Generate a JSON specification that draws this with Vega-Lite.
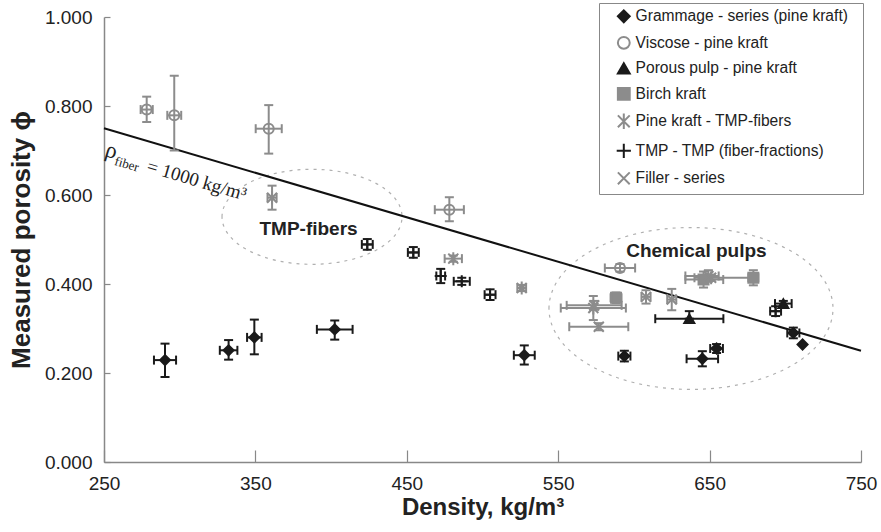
{
  "$schema": "https://vega.github.io/schema/vega-lite/v6.json",
  "width": 757,
  "height": 445,
  "autosize": "none",
  "padding": {"left": 104, "top": 17, "right": 20, "bottom": 70},
  "background": "white",
  "config": {"view": {"stroke": null}, "font": "Liberation Sans"},
  "datasets": {
    "pts": [
      {"series": "Grammage - series (pine kraft)", "x": 290.3, "y": 0.229, "xlo": 283.0, "xhi": 297.6, "ylo": 0.191, "yhi": 0.266},
      {"series": "Grammage - series (pine kraft)", "x": 332.3, "y": 0.251, "xlo": 326.5, "xhi": 338.1, "ylo": 0.230, "yhi": 0.274},
      {"series": "Grammage - series (pine kraft)", "x": 349.3, "y": 0.280, "xlo": 344.5, "xhi": 354.1, "ylo": 0.242, "yhi": 0.320},
      {"series": "Grammage - series (pine kraft)", "x": 402.4, "y": 0.298, "xlo": 390.6, "xhi": 414.2, "ylo": 0.275, "yhi": 0.318},
      {"series": "Grammage - series (pine kraft)", "x": 527.6, "y": 0.240, "xlo": 520.7, "xhi": 534.5, "ylo": 0.219, "yhi": 0.262},
      {"series": "Grammage - series (pine kraft)", "x": 593.7, "y": 0.238, "xlo": 589.7, "xhi": 597.7, "ylo": 0.226, "yhi": 0.250},
      {"series": "Grammage - series (pine kraft)", "x": 645.2, "y": 0.232, "xlo": 634.8, "xhi": 655.6, "ylo": 0.215, "yhi": 0.249},
      {"series": "Grammage - series (pine kraft)", "x": 654.6, "y": 0.255, "xlo": 650.4, "xhi": 658.8, "ylo": 0.245, "yhi": 0.265},
      {"series": "Grammage - series (pine kraft)", "x": 705.3, "y": 0.290, "xlo": 701.3, "xhi": 709.3, "ylo": 0.278, "yhi": 0.302},
      {"series": "Grammage - series (pine kraft)", "x": 711.4, "y": 0.264, "xlo": 711.4, "xhi": 711.4, "ylo": 0.264, "yhi": 0.264},
      {"series": "Viscose - pine kraft", "x": 278.2, "y": 0.792, "xlo": 274.2, "xhi": 282.2, "ylo": 0.764, "yhi": 0.821},
      {"series": "Viscose - pine kraft", "x": 296.4, "y": 0.779, "xlo": 291.8, "xhi": 301.0, "ylo": 0.700, "yhi": 0.868},
      {"series": "Viscose - pine kraft", "x": 358.8, "y": 0.749, "xlo": 350.2, "xhi": 367.4, "ylo": 0.693, "yhi": 0.802},
      {"series": "Viscose - pine kraft", "x": 478.1, "y": 0.567, "xlo": 468.5, "xhi": 487.7, "ylo": 0.541, "yhi": 0.595},
      {"series": "Viscose - pine kraft", "x": 590.8, "y": 0.436, "xlo": 580.8, "xhi": 600.8, "ylo": 0.428, "yhi": 0.445},
      {"series": "Porous pulp - pine kraft", "x": 636.6, "y": 0.322, "xlo": 614.1, "xhi": 659.1, "ylo": 0.322, "yhi": 0.339},
      {"series": "Porous pulp - pine kraft", "x": 698.7, "y": 0.356, "xlo": 693.2, "xhi": 704.2, "ylo": 0.350, "yhi": 0.362},
      {"series": "Birch kraft", "x": 588.2, "y": 0.369, "xlo": 584.6, "xhi": 591.8, "ylo": 0.357, "yhi": 0.381},
      {"series": "Birch kraft", "x": 678.9, "y": 0.414, "xlo": 675.6, "xhi": 682.2, "ylo": 0.397, "yhi": 0.431},
      {"series": "Birch kraft", "x": 646.0, "y": 0.410, "xlo": 634.0, "xhi": 659.0, "ylo": 0.392, "yhi": 0.428},
      {"series": "Pine kraft - TMP-fibers", "x": 361.0, "y": 0.594, "xlo": 358.0, "xhi": 364.0, "ylo": 0.567, "yhi": 0.621},
      {"series": "Pine kraft - TMP-fibers", "x": 480.7, "y": 0.457, "xlo": 475.0, "xhi": 486.4, "ylo": 0.450, "yhi": 0.464},
      {"series": "Pine kraft - TMP-fibers", "x": 525.9, "y": 0.391, "xlo": 523.0, "xhi": 528.8, "ylo": 0.384, "yhi": 0.398},
      {"series": "Pine kraft - TMP-fibers", "x": 573.2, "y": 0.346, "xlo": 551.7, "xhi": 594.7, "ylo": 0.319, "yhi": 0.373},
      {"series": "Pine kraft - TMP-fibers", "x": 608.0, "y": 0.371, "xlo": 605.0, "xhi": 611.0, "ylo": 0.356, "yhi": 0.386},
      {"series": "Pine kraft - TMP-fibers", "x": 651.0, "y": 0.414, "xlo": 640.0, "xhi": 677.0, "ylo": 0.407, "yhi": 0.421},
      {"series": "TMP - TMP (fiber-fractions)", "x": 423.9, "y": 0.489, "xlo": 420.3, "xhi": 427.5, "ylo": 0.477, "yhi": 0.501},
      {"series": "TMP - TMP (fiber-fractions)", "x": 454.3, "y": 0.471, "xlo": 450.7, "xhi": 457.9, "ylo": 0.459, "yhi": 0.483},
      {"series": "TMP - TMP (fiber-fractions)", "x": 472.4, "y": 0.418, "xlo": 469.5, "xhi": 475.3, "ylo": 0.402, "yhi": 0.434},
      {"series": "TMP - TMP (fiber-fractions)", "x": 486.3, "y": 0.406, "xlo": 481.0, "xhi": 491.6, "ylo": 0.398, "yhi": 0.414},
      {"series": "TMP - TMP (fiber-fractions)", "x": 505.0, "y": 0.376, "xlo": 501.4, "xhi": 508.6, "ylo": 0.364, "yhi": 0.388},
      {"series": "TMP - TMP (fiber-fractions)", "x": 693.6, "y": 0.339, "xlo": 690.0, "xhi": 697.2, "ylo": 0.328, "yhi": 0.350},
      {"series": "Filler - series", "x": 576.8, "y": 0.304, "xlo": 557.3, "xhi": 596.3, "ylo": 0.296, "yhi": 0.312},
      {"series": "Filler - series", "x": 573.8, "y": 0.352, "xlo": 555.6, "xhi": 591.9, "ylo": 0.342, "yhi": 0.362},
      {"series": "Filler - series", "x": 625.0, "y": 0.365, "xlo": 622.0, "xhi": 628.0, "ylo": 0.341, "yhi": 0.389},
      {"series": "Filler - series", "x": 649.2, "y": 0.418, "xlo": 634.0, "xhi": 656.0, "ylo": 0.405, "yhi": 0.431}
    ]
  },
  "layer": [
    {
      "data": {"values": [{"x": 387.4, "y": 0.551}]},
      "mark": {"type": "point", "shape": "M-1,0A1,0.528,0,1,1,1,0A1,0.528,0,1,1,-1,0Z", "size": 32400, "filled": false, "stroke": "#b0b0b0", "strokeWidth": 1.2, "strokeDash": [3, 5], "opacity": 1},
      "encoding": {
        "x": {"field": "x", "type": "quantitative", "title": "Density, kg/m³"},
        "y": {"field": "y", "type": "quantitative", "title": "Measured porosity ϕ"}
      }
    },
    {
      "data": {"values": [{"x": 637.7, "y": 0.345}]},
      "mark": {"type": "point", "shape": "M-1,0A1,0.57,0,1,1,1,0A1,0.57,0,1,1,-1,0Z", "size": 80656, "filled": false, "stroke": "#b0b0b0", "strokeWidth": 1.2, "strokeDash": [3, 5], "opacity": 1},
      "encoding": {
        "x": {"field": "x", "type": "quantitative", "title": "Density, kg/m³"},
        "y": {"field": "y", "type": "quantitative", "title": "Measured porosity ϕ"}
      }
    },
    {
      "data": {"values": [{"x": 250, "y": 0.75}, {"x": 750, "y": 0.25}]},
      "mark": {"type": "line", "color": "#111111", "strokeWidth": 2},
      "encoding": {
        "x": {"field": "x", "type": "quantitative", "title": "Density, kg/m³"},
        "y": {"field": "y", "type": "quantitative", "title": "Measured porosity ϕ"}
      }
    },
    {
      "data": {"name": "pts"},
      "mark": {"type": "rule", "strokeWidth": 2},
      "encoding": {
        "x": {"field": "xlo", "type": "quantitative", "title": "Density, kg/m³"},
        "x2": {"field": "xhi"},
        "y": {"field": "y", "type": "quantitative", "title": "Measured porosity ϕ"},
        "stroke": {"field": "series", "type": "nominal"}
      }
    },
    {
      "data": {"name": "pts"},
      "mark": {"type": "rule", "strokeWidth": 2},
      "encoding": {
        "x": {"field": "x", "type": "quantitative", "title": "Density, kg/m³"},
        "y": {"field": "ylo", "type": "quantitative", "title": "Measured porosity ϕ"},
        "y2": {"field": "yhi"},
        "stroke": {"field": "series", "type": "nominal"}
      }
    },
    {
      "data": {"name": "pts"},
      "mark": {"type": "rule", "strokeWidth": 2, "yOffset": -4.5, "y2Offset": 4.5},
      "encoding": {
        "x": {"field": "xlo", "type": "quantitative", "title": "Density, kg/m³"},
        "y": {"field": "y", "type": "quantitative", "title": "Measured porosity ϕ"},
        "y2": {"field": "y"},
        "stroke": {"field": "series", "type": "nominal"}
      }
    },
    {
      "data": {"name": "pts"},
      "mark": {"type": "rule", "strokeWidth": 2, "yOffset": -4.5, "y2Offset": 4.5},
      "encoding": {
        "x": {"field": "xhi", "type": "quantitative", "title": "Density, kg/m³"},
        "y": {"field": "y", "type": "quantitative", "title": "Measured porosity ϕ"},
        "y2": {"field": "y"},
        "stroke": {"field": "series", "type": "nominal"}
      }
    },
    {
      "data": {"name": "pts"},
      "mark": {"type": "rule", "strokeWidth": 2, "xOffset": -4.5, "x2Offset": 4.5},
      "encoding": {
        "x": {"field": "x", "type": "quantitative", "title": "Density, kg/m³"},
        "x2": {"field": "x"},
        "y": {"field": "ylo", "type": "quantitative", "title": "Measured porosity ϕ"},
        "stroke": {"field": "series", "type": "nominal"}
      }
    },
    {
      "data": {"name": "pts"},
      "mark": {"type": "rule", "strokeWidth": 2, "xOffset": -4.5, "x2Offset": 4.5},
      "encoding": {
        "x": {"field": "x", "type": "quantitative", "title": "Density, kg/m³"},
        "x2": {"field": "x"},
        "y": {"field": "yhi", "type": "quantitative", "title": "Measured porosity ϕ"},
        "stroke": {"field": "series", "type": "nominal"}
      }
    },
    {
      "data": {"name": "pts"},
      "mark": {"type": "point", "size": 100, "strokeWidth": 2, "opacity": 1},
      "encoding": {
        "x": {
          "field": "x", "type": "quantitative", "title": "Density, kg/m³",
          "scale": {"domain": [250, 750], "nice": false, "zero": false},
          "axis": {
            "values": [250, 350, 450, 550, 650, 750], "format": "d", "grid": false,
            "labelFont": "Liberation Sans", "labelFontSize": 19, "labelColor": "#222222",
            "domainColor": "#888888", "domainWidth": 1.5, "tickColor": "#888888", "tickWidth": 1.2,
            "tickSize": -12, "labelPadding": 24, "labelFlush": false,
            "titleFont": "Liberation Sans", "titleFontSize": 24, "titleFontWeight": "bold", "titleColor": "#222222", "titlePadding": 2
          }
        },
        "y": {
          "field": "y", "type": "quantitative", "title": "Measured porosity ϕ",
          "scale": {"domain": [0, 1], "nice": false},
          "axis": {
            "values": [0, 0.2, 0.4, 0.6, 0.8, 1.0], "format": ".3f", "grid": false,
            "labelFont": "Liberation Sans", "labelFontSize": 19, "labelColor": "#222222",
            "domainColor": "#888888", "domainWidth": 1.5, "tickColor": "#888888", "tickWidth": 1.2,
            "tickSize": -6, "labelPadding": 18,
            "titleFont": "Liberation Sans", "titleFontSize": 26, "titleFontWeight": "bold", "titleColor": "#222222", "titlePadding": 10
          }
        },
        "shape": {
          "field": "series", "type": "nominal",
          "scale": {
            "domain": ["Grammage - series (pine kraft)", "Viscose - pine kraft", "Porous pulp - pine kraft", "Birch kraft", "Pine kraft - TMP-fibers", "TMP - TMP (fiber-fractions)", "Filler - series"],
            "range": ["diamond", "circle", "triangle-up", "square", "M-1,-1L1,1M-1,1L1,-1M0,-1.3L0,1.3", "M-1.2,0L1.2,0M0,-1.2L0,1.2", "M-1,-1L1,1M-1,1L1,-1"]
          },
          "legend": {
            "orient": "none", "legendX": 495, "legendY": -14, "title": null,
            "fillColor": "white", "strokeColor": "#888888", "padding": 5.5,
            "labelFont": "Liberation Sans", "labelFontSize": 15.6, "labelColor": "#222222",
            "rowPadding": 5.5, "labelOffset": 4, "symbolOffset": 11.5, "symbolStrokeWidth": 2, "symbolSize": 140, "labelLimit": 400,
            "labelExpr": "datum.label + '  \u200b'"
          }
        },
        "fill": {
          "field": "series", "type": "nominal",
          "scale": {
            "domain": ["Grammage - series (pine kraft)", "Viscose - pine kraft", "Porous pulp - pine kraft", "Birch kraft", "Pine kraft - TMP-fibers", "TMP - TMP (fiber-fractions)", "Filler - series"],
            "range": ["#1a1a1a", "transparent", "#1a1a1a", "#8c8c8c", "transparent", "transparent", "transparent"]
          }
        },
        "stroke": {
          "field": "series", "type": "nominal",
          "scale": {
            "domain": ["Grammage - series (pine kraft)", "Viscose - pine kraft", "Porous pulp - pine kraft", "Birch kraft", "Pine kraft - TMP-fibers", "TMP - TMP (fiber-fractions)", "Filler - series"],
            "range": ["#1a1a1a", "#8c8c8c", "#1a1a1a", "#8c8c8c", "#8c8c8c", "#1a1a1a", "#8c8c8c"]
          }
        }
      }
    },
    {
      "data": {"values": [{"label": "TMP-fibers", "x": 385.1, "y": 0.5225}, {"label": "Chemical pulps", "x": 641.3, "y": 0.474}]},
      "mark": {"type": "text", "font": "Liberation Sans", "fontSize": 19, "fontWeight": "bold", "color": "#222222", "align": "center", "baseline": "middle"},
      "encoding": {
        "x": {"field": "x", "type": "quantitative", "title": "Density, kg/m³"},
        "y": {"field": "y", "type": "quantitative", "title": "Measured porosity ϕ"},
        "text": {"field": "label"}
      }
    },
    {
      "data": {"values": [{"label": "ρ", "x": 250.0, "y": 0.688}]},
      "mark": {"type": "text", "font": "Liberation Serif", "fontSize": 23, "color": "#222222", "align": "left", "baseline": "alphabetic", "angle": 16.5},
      "encoding": {
        "x": {"field": "x", "type": "quantitative", "title": "Density, kg/m³"},
        "y": {"field": "y", "type": "quantitative", "title": "Measured porosity ϕ"},
        "text": {"field": "label"}
      }
    },
    {
      "data": {"values": [{"label": "= 1000 kg/m³", "x": 277.5, "y": 0.653}]},
      "mark": {"type": "text", "font": "Liberation Serif", "fontSize": 19, "color": "#222222", "align": "left", "baseline": "alphabetic", "angle": 16.5},
      "encoding": {
        "x": {"field": "x", "type": "quantitative", "title": "Density, kg/m³"},
        "y": {"field": "y", "type": "quantitative", "title": "Measured porosity ϕ"},
        "text": {"field": "label"}
      }
    },
    {
      "data": {"values": [{"label": "fiber", "x": 256.5, "y": 0.668}]},
      "mark": {"type": "text", "font": "Liberation Serif", "fontSize": 13, "color": "#222222", "align": "left", "baseline": "alphabetic", "angle": 16.5},
      "encoding": {
        "x": {"field": "x", "type": "quantitative", "title": "Density, kg/m³"},
        "y": {"field": "y", "type": "quantitative", "title": "Measured porosity ϕ"},
        "text": {"field": "label"}
      }
    }
  ]
}
